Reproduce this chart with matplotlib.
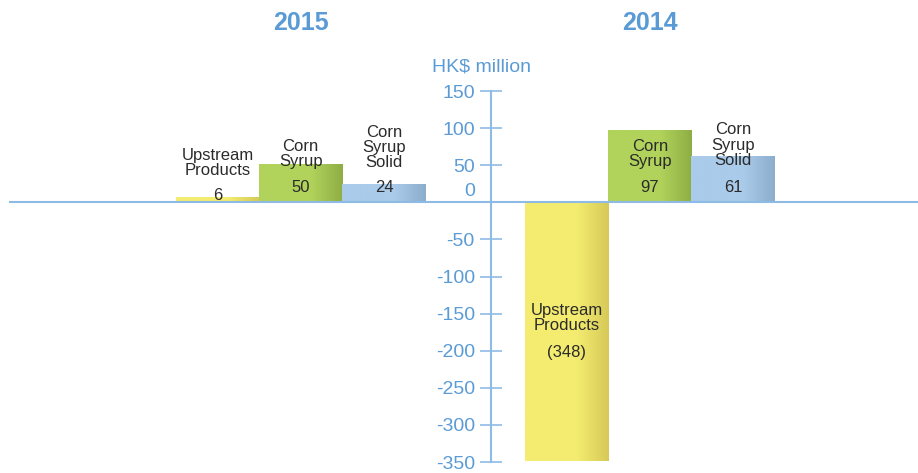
import numpy as np
import matplotlib
matplotlib.use('Agg')
import matplotlib.pyplot as plt
from matplotlib.colors import LinearSegmentedColormap

# ---- data ----
years = ['2015', '2014']
products = ['Upstream\nProducts', 'Corn\nSyrup', 'Corn\nSyrup\nSolid']
values_2015 = [6, 50, 24]
values_2014 = [-348, 97, 61]
value_labels_2015 = ['6', '50', '24']
value_labels_2014 = ['(348)', '97', '61']
y_ticks = [150, 100, 50, -50, -100, -150, -200, -250, -300, -350]

BLUE = '#5b9bd5'
LINE = '#8dbbe6'
TEXT = '#2b2b2b'
bar_colors = [('#f4ec70', '#d6c957'), ('#b1d35b', '#8eae45'), ('#aacbea', '#8cadcc')]

plt.rcParams['font.family'] = ['Liberation Sans', 'DejaVu Sans']

fig = plt.figure(figsize=(9.18, 4.73), dpi=100)
# axes: y from -350 (px 462) to 150 (px 91)
ax = fig.add_axes([0, 11 / 473, 1, 371 / 473])
ax.set_ylim(-350, 150)
ax.set_xlim(-2.61, 8.41)

pos_2015 = np.arange(3)
pos_2014 = np.arange(3) + 4.19
axis_x = 3.29


def gradient_bar(x, v, c_main, c_dark):
    b = ax.bar(x, v, width=1.0, color='none', linewidth=0)[0]
    cmap = LinearSegmentedColormap.from_list('g', [(0, c_main), (0.62, c_main), (1, c_dark)])
    grad = np.linspace(0, 1, 256).reshape(1, -1)
    x0, w = b.get_x(), b.get_width()
    y0, h = b.get_y(), b.get_height()
    ax.imshow(grad, cmap=cmap, extent=[x0, x0 + w, y0, y0 + h], aspect='auto', zorder=2)
    return b


for i in range(3):
    gradient_bar(pos_2015[i], values_2015[i], *bar_colors[i])
    gradient_bar(pos_2014[i], values_2014[i], *bar_colors[i])

# name / value labels
name_y_2015 = [52.5, 64.7, 74]
val_y_2015 = [9.4, 20, 20]
name_y_2014 = [-156, 64.7, 77]
val_y_2014 = [-202, 20, 20]
for i in range(3):
    ax.text(pos_2015[i], name_y_2015[i], products[i], ha='center', va='center',
            fontsize=12, color=TEXT, linespacing=1.02, zorder=4)
    ax.text(pos_2015[i], val_y_2015[i], value_labels_2015[i], ha='center', va='center',
            fontsize=12, color=TEXT, zorder=4)
    ax.text(pos_2014[i], name_y_2014[i], products[i], ha='center', va='center',
            fontsize=12, color=TEXT, linespacing=1.02, zorder=4)
    ax.text(pos_2014[i], val_y_2014[i], value_labels_2014[i], ha='center', va='center',
            fontsize=12, color=TEXT, zorder=4)

# zero line across the figure
ax.axhline(0, xmin=0.011, xmax=1, color=LINE, lw=1.5, zorder=3)

# central axis
for s in ['top', 'right', 'bottom']:
    ax.spines[s].set_visible(False)
ax.spines['left'].set_position(('data', axis_x))
ax.spines['left'].set_bounds(-350, 150)
ax.spines['left'].set_color(LINE)
ax.spines['left'].set_linewidth(1.5)
ax.spines['left'].set_zorder(3)
ax.set_yticks(y_ticks)
ax.set_yticklabels([str(t) for t in y_ticks])
ax.tick_params(axis='y', direction='inout', length=16, width=1.2, color=LINE,
               labelcolor=BLUE, labelsize=14, pad=4)
ax.set_xticks([])
ax.text(axis_x - 0.2, 14, '0', ha='right', va='center', fontsize=14, color=BLUE)
ax.text(axis_x - 0.12, 182, 'HK$ million', ha='center', va='center', fontsize=14,
        color=BLUE, clip_on=False)

# year headers
ax.text(pos_2015[1], 242, years[0], ha='center', va='center', fontsize=18,
        fontweight='bold', color=BLUE, clip_on=False)
ax.text(pos_2014[1], 242, years[1], ha='center', va='center', fontsize=18,
        fontweight='bold', color=BLUE, clip_on=False)

fig.savefig('out.png', dpi=100)
